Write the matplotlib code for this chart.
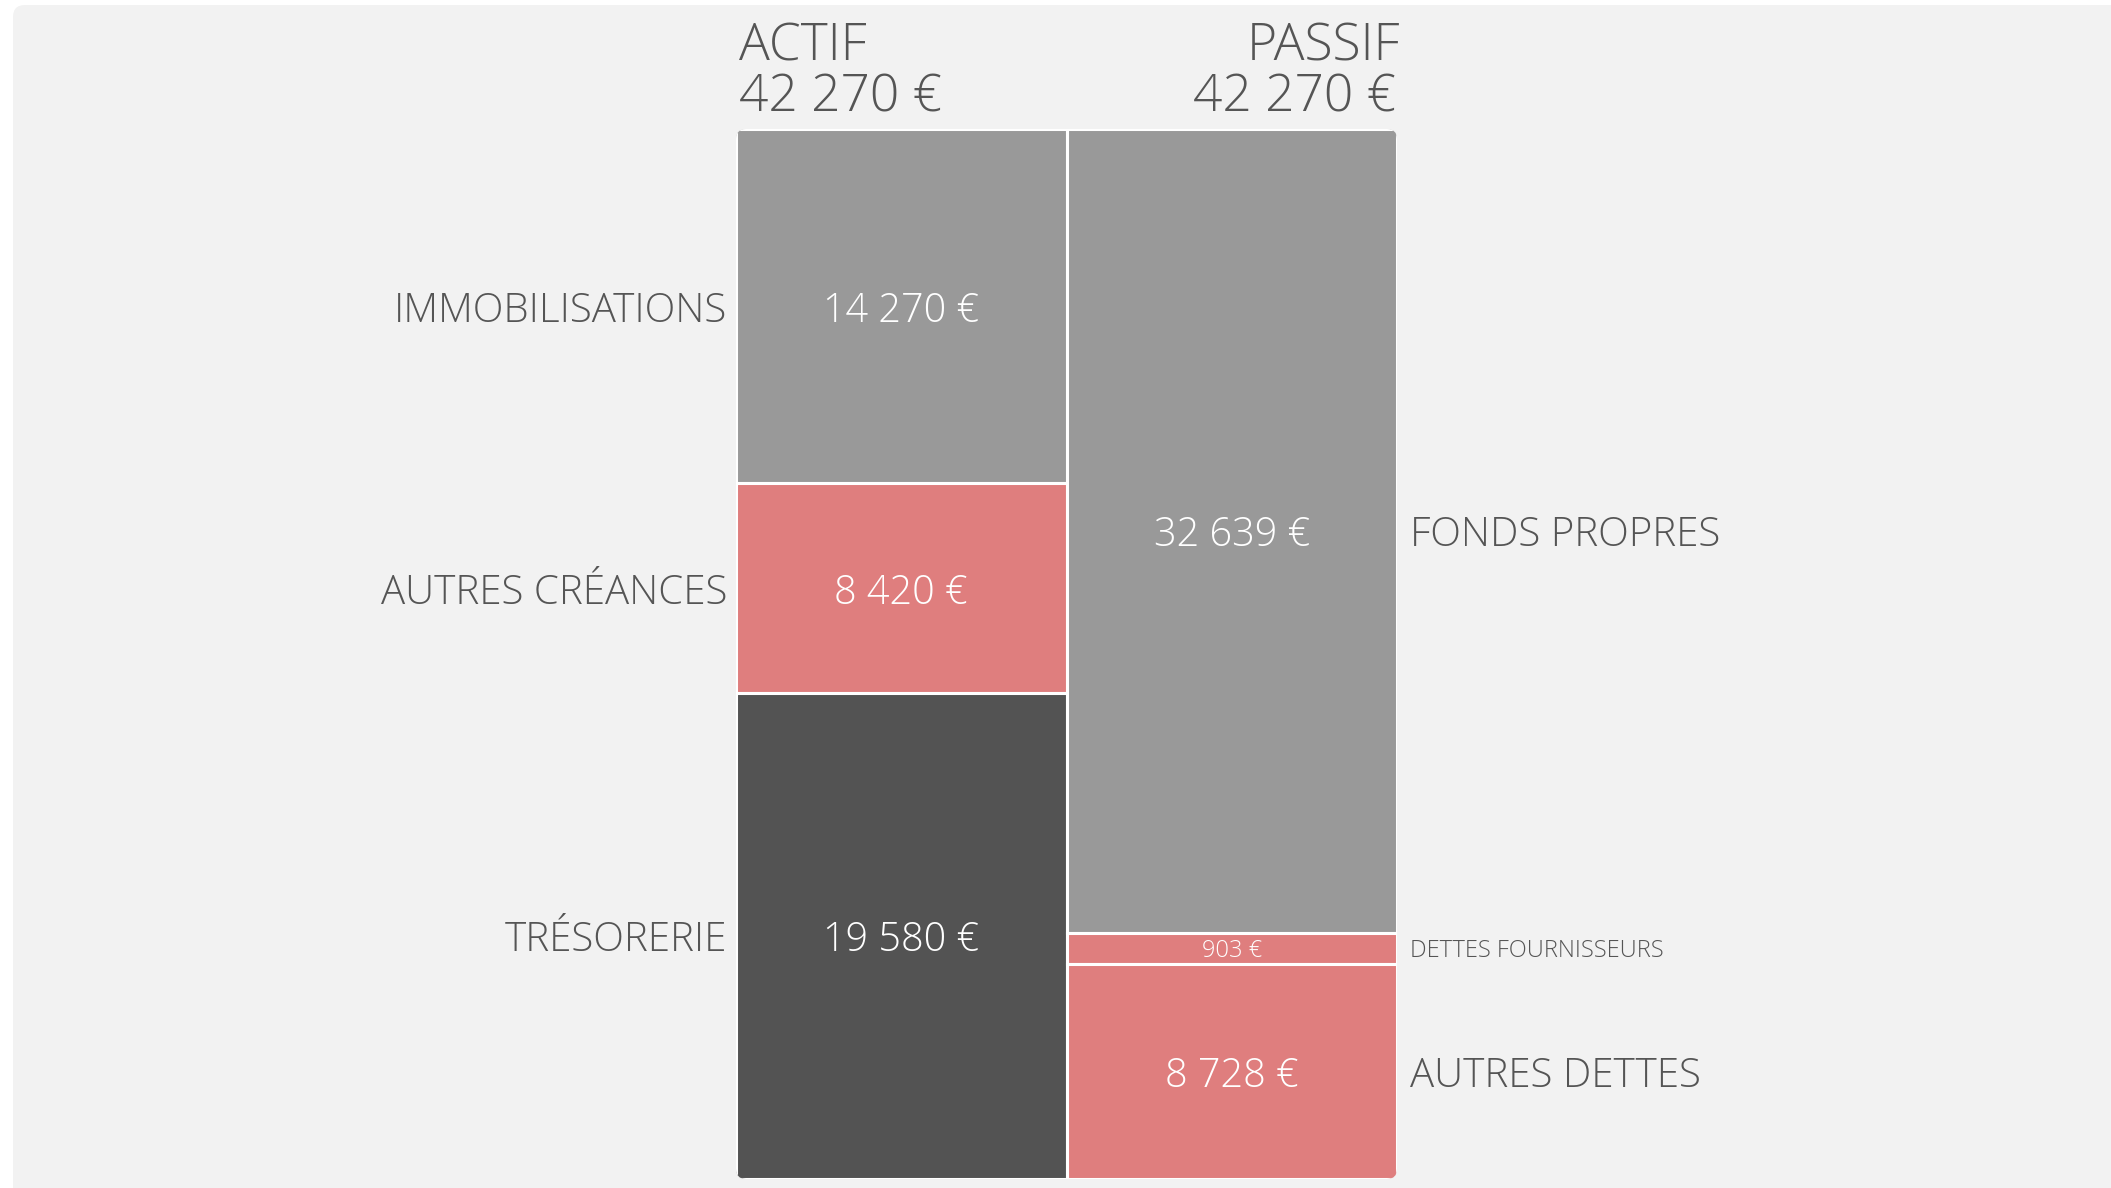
import numpy as np
import matplotlib
matplotlib.use('Agg')
import matplotlib.pyplot as plt
from matplotlib.patches import FancyBboxPatch

plt.rcParams['font.family'] = ['Open Sans', 'DejaVu Sans']

# bilan data
actif_labels = ['IMMOBILISATIONS', 'AUTRES CRÉANCES', 'TRÉSORERIE']
actif_values = [14270, 8420, 19580]
passif_labels = ['FONDS PROPRES', 'DETTES FOURNISSEURS', 'AUTRES DETTES']
passif_values = [32639, 903, 8728]

GRAY = '#999999'
RED = '#df7e7e'
DARK = '#535353'
TXT = '#555555'
actif_colors = [GRAY, RED, DARK]
passif_colors = [GRAY, RED, RED]


def eur(v):
    return f"{v:,}".replace(",", " ") + " €"


def display_heights(vals, min_share=0.03):
    # tiny segments get a minimum height so their label fits
    vals = np.array(vals, dtype=float)
    tot = vals.sum()
    small = vals / tot < min_share
    h = vals.copy()
    h[small] = min_share * tot
    rest = tot - h[small].sum()
    h[~small] = vals[~small] / vals[~small].sum() * rest
    return h


W, H = 2111, 1188
fig = plt.figure(figsize=(W / 100, H / 100), dpi=100)
fig.patch.set_facecolor('white')

# light panel behind everything
panel = FancyBboxPatch((13 / 100, -0.3), (W + 40) / 100, (H - 5) / 100 + 0.3,
                       boxstyle='round,pad=0,rounding_size=0.12',
                       transform=fig.dpi_scale_trans, facecolor='#f2f2f2',
                       edgecolor='none', zorder=-10)
fig.patches.append(panel)

# bar area in pixels
x0, x1, top, bot = 736, 1397, 129, 1179
ax = fig.add_axes([x0 / W, 1 - bot / H, (x1 - x0) / W, (bot - top) / H])
ax.set_xlim(0, 2)
total = sum(actif_values)
ax.set_ylim(total, 0)
ax.axis('off')

clip = FancyBboxPatch((x0 / 100, (H - bot) / 100), (x1 - x0) / 100, (bot - top) / 100,
                      boxstyle='round,pad=0,rounding_size=0.1',
                      transform=fig.dpi_scale_trans, facecolor='none', edgecolor='none')
clip.set_figure(fig)

px = 2 / (x1 - x0)  # one pixel in x data units

for col, (labels, vals, cols) in enumerate([(actif_labels, actif_values, actif_colors),
                                            (passif_labels, passif_values, passif_colors)]):
    hts = display_heights(vals)
    starts = np.concatenate([[0], np.cumsum(hts)[:-1]])
    bars = ax.bar(col + 0.5, hts, width=1.0, bottom=starts, color=cols,
                  edgecolor='white', linewidth=2.2)
    for b in bars:
        b.set_clip_path(clip)
    for lab, v, s, h in zip(labels, vals, starts, hts):
        yc = s + h / 2
        small = v / total < 0.03
        ax.text(col + 0.5, yc, eur(v), ha='center', va='center_baseline',
                color='white', fontsize=17 if small else 28.5, fontweight='light')
        fs = 17 if small else 29
        if col == 0:
            ax.text(-9 * px, yc, lab, ha='right', va='center_baseline',
                    color=TXT, fontsize=fs, fontweight='light', clip_on=False)
        else:
            ax.text(2 + 13 * px, yc, lab, ha='left', va='center_baseline',
                    color=TXT, fontsize=fs, fontweight='light', clip_on=False)

# headers
fig.text(739 / W, 1 - 41 / H, 'ACTIF', ha='left', va='center_baseline',
         fontsize=37, color=TXT, fontweight='light')
fig.text(739 / W, 1 - 92 / H, eur(sum(actif_values)), ha='left', va='center_baseline',
         fontsize=37, color=TXT, fontweight='light')
fig.text(1400 / W, 1 - 41 / H, 'PASSIF', ha='right', va='center_baseline',
         fontsize=37, color=TXT, fontweight='light')
fig.text(1396 / W, 1 - 92 / H, eur(sum(passif_values)), ha='right', va='center_baseline',
         fontsize=37, color=TXT, fontweight='light')

fig.savefig('out.png', dpi=100, facecolor=fig.get_facecolor())
